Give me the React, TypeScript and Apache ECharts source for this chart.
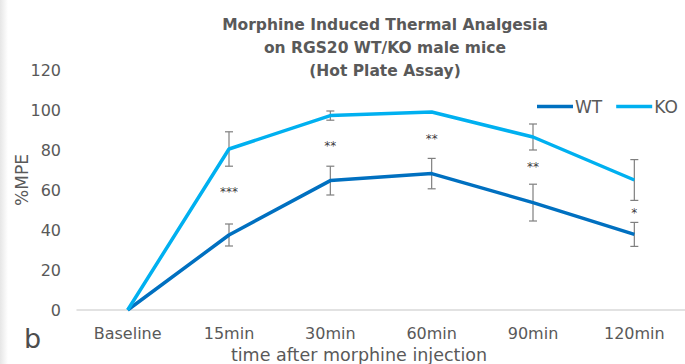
import React, { useEffect, useRef } from "react";
import * as echarts from "echarts";

const categories = ["Baseline", "15min", "30min", "60min", "90min", "120min"];
const wtValues = [0, 37.5, 64.7, 68.2, 53.7, 37.8];
const koValues = [0, 80.5, 97.2, 99.0, 86.5, 65.0];
const wtErrors = [0, 5.5, 7.2, 7.6, 9.2, 6.0];
const koErrors = [0, 8.6, 2.3, 0, 6.5, 10.2];
const sigLabels = ["", "***", "**", "**", "**", "*"];
const sigValues = [null, 59, 82, 85.5, 71.5, 48.5];
const titleLines = [
  "Morphine Induced Thermal Analgesia",
  "on RGS20 WT/KO male mice",
  "(Hot Plate Assay)",
];
const yMin = 0;
const yMax = 120;
const yInterval = 20;

const GRAY = "#595959";
const FONT = "DejaVu Sans, Verdana, sans-serif";

function errorSeries(name: string, values: number[], errors: number[]) {
  return {
    type: "custom",
    name,
    z: 1,
    silent: true,
    data: values.map((v, i) => [i, v - errors[i], v + errors[i], errors[i]]),
    renderItem: (params: any, api: any) => {
      if (api.value(3) <= 0) return { type: "group", children: [] };
      const lo = api.coord([api.value(0), api.value(1)]);
      const hi = api.coord([api.value(0), api.value(2)]);
      const w = 4;
      const style = { stroke: "#7f7f7f", lineWidth: 1.2 };
      return {
        type: "group",
        children: [
          { type: "line", shape: { x1: lo[0], y1: lo[1], x2: hi[0], y2: hi[1] }, style },
          { type: "line", shape: { x1: lo[0] - w, y1: lo[1], x2: lo[0] + w, y2: lo[1] }, style },
          { type: "line", shape: { x1: hi[0] - w, y1: hi[1], x2: hi[0] + w, y2: hi[1] }, style },
        ],
      };
    },
  };
}

export default function App() {
  const ref = useRef<HTMLDivElement>(null);
  useEffect(() => {
    if (!ref.current) return;
    const chart = echarts.init(ref.current, undefined, { renderer: "svg" });
    chart.setOption({
      animation: false,
      backgroundColor: "#ffffff",
      grid: { left: 77, right: -3, top: 70, bottom: 54 },
      legend: {
        data: ["WT", "KO"],
        orient: "horizontal",
        left: 537,
        top: 98,
        width: 200,
        padding: 0,
        icon: "rect",
        itemWidth: 36,
        itemHeight: 3.5,
        itemGap: 14,
        textStyle: { color: GRAY, fontSize: 17, fontFamily: FONT, padding: [0, 0, 0, -3] },
      },
      xAxis: {
        type: "category",
        data: categories,
        boundaryGap: true,
        axisLine: { lineStyle: { color: "#d9d9d9", width: 1.5 } },
        axisTick: { show: false },
        axisLabel: { color: GRAY, fontSize: 16, fontFamily: FONT, margin: 15 },
        splitLine: { show: false },
      },
      yAxis: {
        type: "value",
        min: yMin,
        max: yMax,
        interval: yInterval,
        axisLine: { show: false },
        axisTick: { show: false },
        splitLine: { show: false },
        axisLabel: { color: GRAY, fontSize: 16, fontFamily: FONT, margin: 16 },
      },
      series: [
        errorSeries("WT err", wtValues, wtErrors),
        errorSeries("KO err", koValues, koErrors),
        {
          type: "line",
          name: "WT",
          data: wtValues,
          z: 3,
          symbol: "none",
          color: "#0070C0",
          lineStyle: { color: "#0070C0", width: 3.5 },
        },
        {
          type: "line",
          name: "KO",
          data: koValues,
          z: 3,
          symbol: "none",
          color: "#00B0F0",
          lineStyle: { color: "#00B0F0", width: 3.5 },
        },
        {
          type: "scatter",
          name: "sig",
          silent: true,
          symbolSize: 1,
          itemStyle: { color: "rgba(0,0,0,0)" },
          data: sigValues.map((v, i) => [i, v]),
          label: {
            show: true,
            position: "inside",
            color: "#000000",
            fontSize: 12,
            fontFamily: FONT,
            formatter: (p: any) => sigLabels[p.dataIndex],
          },
        },
      ],
      graphic: [
        {
          type: "rect",
          shape: { x: 0, y: 0, width: 8, height: 364 },
          style: {
            fill: new echarts.graphic.LinearGradient(0, 0, 1, 0, [
              { offset: 0, color: "#e6e6e6" },
              { offset: 1, color: "#ffffff" },
            ]),
          },
          silent: true,
        },
        ...titleLines.map((t, i) => ({
          type: "text",
          x: 385,
          y: 25 + i * 23,
          style: {
            text: t,
            textAlign: "center",
            textVerticalAlign: "middle",
            font: `bold 15.5px ${FONT}`,
            fill: GRAY,
          },
        })),
        {
          type: "text",
          x: 22,
          y: 180,
          rotation: Math.PI / 2,
          style: {
            text: "%MPE",
            textAlign: "center",
            textVerticalAlign: "middle",
            font: `17px ${FONT}`,
            fill: GRAY,
          },
        },
        {
          type: "text",
          x: 359,
          y: 355,
          style: {
            text: "time after morphine injection",
            textAlign: "center",
            textVerticalAlign: "middle",
            font: `17.5px ${FONT}`,
            fill: GRAY,
          },
        },
        {
          type: "text",
          x: 24,
          y: 338,
          style: {
            text: "b",
            textAlign: "left",
            textVerticalAlign: "middle",
            font: `27px ${FONT}`,
            fill: "#4d4d4d",
          },
        },
      ],
    });
    return () => chart.dispose();
  }, []);
  return (
    <div
      ref={ref}
      style={{ position: "fixed", left: 0, top: 0, width: 685, height: 364 }}
    />
  );
}
